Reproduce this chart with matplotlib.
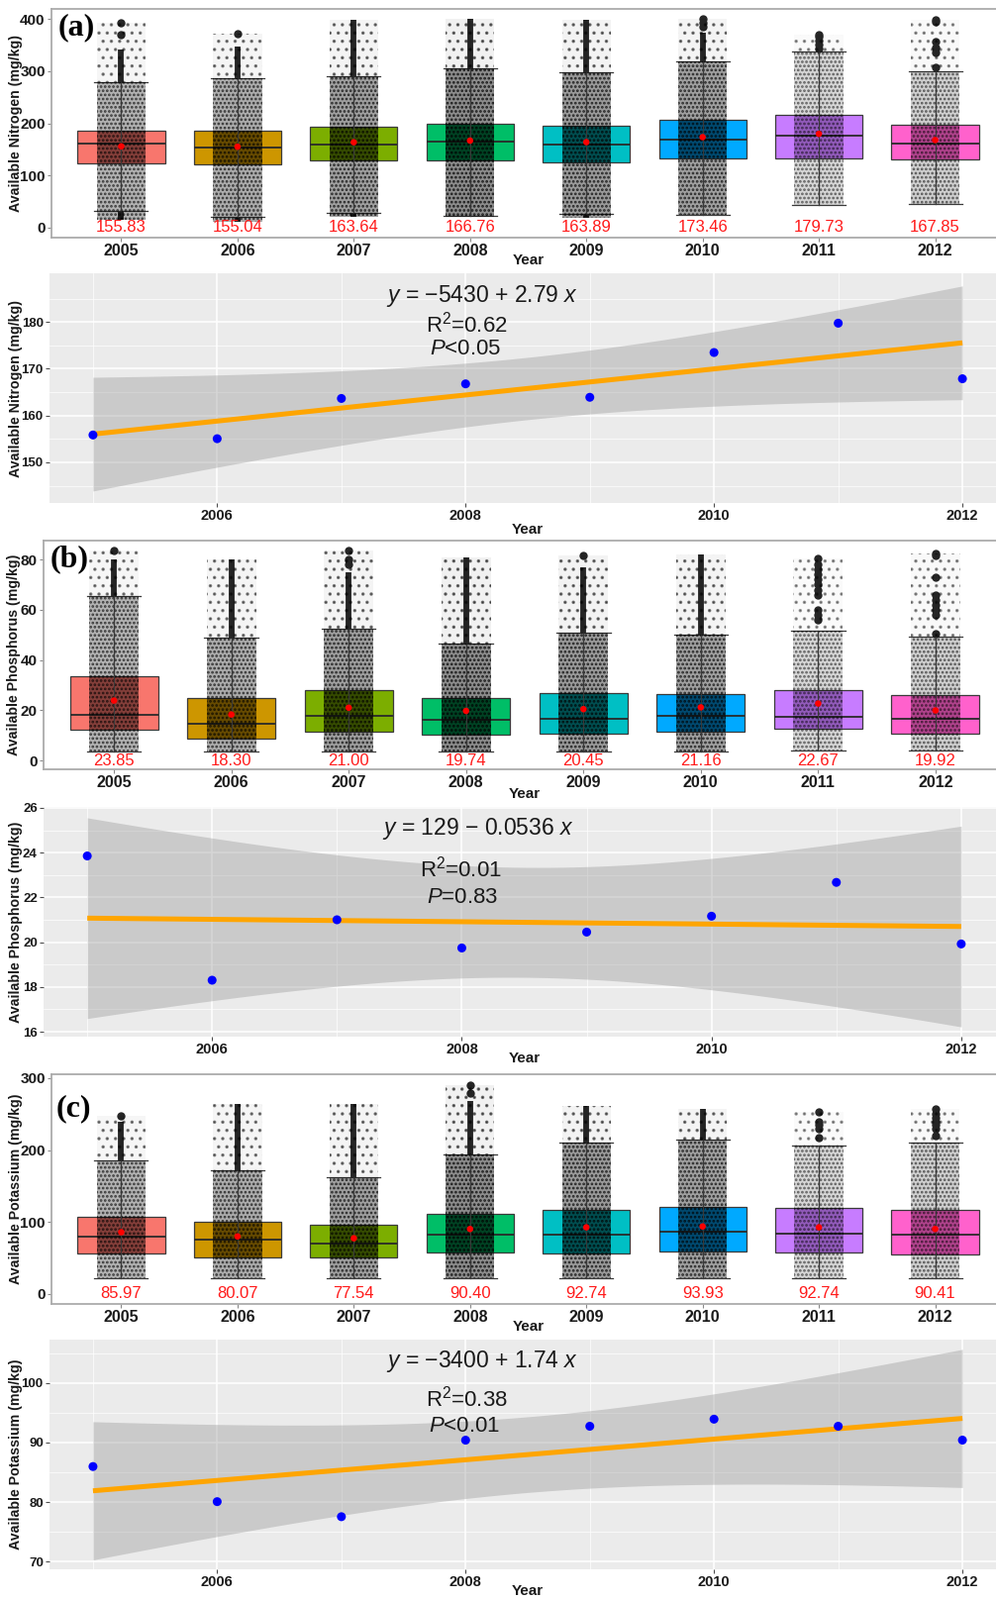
import numpy as np
import matplotlib
matplotlib.use("Agg")
import matplotlib.pyplot as plt

plt.rcParams['font.family'] = ['Liberation Sans', 'DejaVu Sans']
plt.rcParams['mathtext.fontset'] = 'custom'
plt.rcParams['mathtext.rm'] = 'Liberation Sans'
plt.rcParams['mathtext.it'] = 'Liberation Sans:italic'
plt.rcParams['hatch.linewidth'] = 1.3

years = ['2005', '2006', '2007', '2008', '2009', '2010', '2011', '2012']
year_num = [2005, 2006, 2007, 2008, 2009, 2010, 2011, 2012]
box_colors = ['#F8766D', '#CD9600', '#7CAE00', '#00BE67', '#00BFC4', '#00A9FF', '#C77CFF', '#FF61CC']

# (a) available nitrogen
n_mean = [155.83, 155.04, 163.64, 166.76, 163.89, 173.46, 179.73, 167.85]
n_q1 = [124, 121, 128, 129, 126, 133, 132, 131]
n_med = [162, 153, 159, 165, 159, 169, 176, 162]
n_q3 = [186, 186, 193, 200, 196, 207, 216, 198]
n_wlo = [32, 21, 28, 23, 27, 24, 43, 46]
n_whi = [279, 286, 291, 306, 298, 318, 338, 300]
n_out_lo = [16, 12, 20, 20, 18, 24, 43, 46]
n_out_hi = [341, 347, 398, 400, 398, 373, 338, 300]
n_top = [392, 371, 398, 400, 398, 400, 370, 398]
n_extra = [[370, 392], [371], [], [], [], [385, 392, 400],
           [343, 350, 358, 365, 370], [307, 335, 346, 357, 395, 398]]

# (b) available phosphorus
p_mean = [23.85, 18.30, 21.00, 19.74, 20.45, 21.16, 22.67, 19.92]
p_q1 = [12.4, 8.8, 11.3, 10.4, 10.6, 11.5, 12.6, 10.5]
p_med = [18.0, 14.6, 17.7, 16.3, 16.7, 17.8, 17.5, 16.5]
p_q3 = [33.5, 24.9, 28.0, 24.9, 26.9, 26.6, 28.2, 26.0]
p_wlo = [3.6, 3.6, 3.6, 3.6, 3.4, 3.4, 3.8, 3.8]
p_whi = [65.3, 49.0, 52.3, 46.6, 51.0, 49.9, 51.5, 49.4]
p_out_lo = [3.6, 3.6, 3.6, 3.6, 3.4, 3.4, 3.8, 3.8]
p_out_hi = [80, 80, 75, 81, 77, 82, 51.5, 49.4]
p_top = [83.5, 80, 83.5, 81, 81.5, 82, 80.5, 82.5]
p_extra = [[83.5], [], [78, 80, 83.5], [], [81.5], [],
           [56, 58, 60, 66, 68, 70, 72, 74, 76, 78, 80.5],
           [50.5, 58, 60, 62, 64, 66, 73, 81.5, 82.5]]

# (c) available potassium
k_mean = [85.97, 80.07, 77.54, 90.40, 92.74, 93.93, 92.74, 90.41]
k_q1 = [56, 51, 51, 58, 56, 58.7, 58, 54.6]
k_med = [80, 75, 70, 83, 83, 86, 84, 83]
k_q3 = [107, 100, 96, 112, 117, 120.6, 119.5, 116.5]
k_wlo = [22, 22, 22, 22, 22, 22, 22, 22]
k_whi = [186, 172, 163, 194, 210.5, 215, 207, 210]
k_out_lo = [22, 22, 22, 22, 22, 22, 22, 22]
k_out_hi = [240, 264, 264, 269, 262, 258, 207, 210]
k_top = [248, 264, 264, 290, 262, 258, 253, 257]
k_extra = [[248], [], [], [280, 290], [], [], [218, 230, 235, 240, 253],
           [220, 230, 235, 240, 245, 250, 257]]

# relative number of samples per year (darkness of the jitter cloud)
density = [0.6, 0.65, 0.75, 0.9, 0.8, 0.75, 0.32, 0.38]

W, H = 1006, 1616
fig = plt.figure(figsize=(W / 100, H / 100), dpi=100)


def px_axes(l, t, r, b):
    ax = fig.add_axes([l / W, 1 - b / H, (r - l) / W, (b - t) / H])
    ax._px = (l, t, r, b)
    return ax


def place_labels(ax, ylab, xlab_y, ylab_x):
    l, t, r, b = ax._px
    ax.set_xlabel('Year', fontsize=11, fontweight='bold', color='#1a1a1a', va='center')
    ax.xaxis.set_label_coords(0.5, (b - xlab_y) / (b - t))
    ax.set_ylabel(ylab, fontsize=10.2, fontweight='bold', color='#1a1a1a', va='center')
    ax.yaxis.set_label_coords((ylab_x - l) / (r - l), 0.5)


def fig_text(x, y, s, **kw):
    fig.text(x / W, 1 - y / H, s, ha='center', va='center', **kw)


def box_panel(ax, means, q1, med, q3, wlo, whi, out_lo, out_hi, top, extra, ylim, yticks, ylab,
              xlab_y, ylab_x):
    x = np.arange(1, 9)
    stats = []
    for i in range(8):
        stats.append(dict(med=med[i], q1=q1[i], q3=q3[i], whislo=wlo[i], whishi=whi[i],
                          fliers=extra[i]))
    # dense runs of outliers
    ax.vlines(x, whi, out_hi, color='#262626', lw=4.2, zorder=1.5)
    ax.vlines(x, out_lo, wlo, color='#262626', lw=4.2, zorder=1.5)
    bp = ax.bxp(stats, positions=x, widths=0.75, capwidths=0.46, patch_artist=True,
                showfliers=True, manage_ticks=False,
                boxprops=dict(edgecolor='#3a3a3a', linewidth=0.9),
                medianprops=dict(color='#2a2a2a', linewidth=1.3),
                whiskerprops=dict(color='#3a3a3a', linewidth=0.9),
                capprops=dict(color='#3a3a3a', linewidth=0.9),
                flierprops=dict(marker='o', markerfacecolor='#262626', markeredgecolor='none',
                                markersize=6))
    for patch, c in zip(bp['boxes'], box_colors):
        patch.set_facecolor(c)
    # jitter cloud, drawn as dotted strips
    d = np.array(density)
    lo = np.minimum(out_lo, wlo)
    ax.bar(x, np.array(top) - np.array(whi), bottom=whi, width=0.42, hatch='..',
           facecolor=[(0, 0, 0, 0.06 * v) for v in d],
           edgecolor=[(0, 0, 0, 0.3 + 0.25 * v) for v in d], lw=0, zorder=3)
    ax.bar(x, np.array(whi) - np.array(lo), bottom=lo, width=0.42, hatch='....',
           facecolor=[(0, 0, 0, 0.5 * v) for v in d],
           edgecolor=[(0, 0, 0, 0.4 + 0.45 * v) for v in d], lw=0, zorder=3)
    ax.bar(x, np.array(q3) - np.array(q1), bottom=q1, width=0.42,
           color=[(0, 0, 0, 0.4 * v) for v in d], lw=0, zorder=3)
    ax.vlines(x, wlo, whi, color='#3a3a3a', lw=0.8, zorder=3.2)
    ax.scatter(x, means, s=22, color='#FF0000', zorder=5, edgecolors='none')
    for xi, m in zip(x, means):
        ax.text(xi, 0, f'{m:.2f}', color='#FF1A1A', fontsize=12, ha='center', va='center', zorder=6)
    ax.set_xlim(0.4, 8.6)
    ax.set_ylim(*ylim)
    ax.set_xticks(x, years)
    ax.set_yticks(yticks)
    ax.tick_params(labelsize=11.5, length=3, width=0.8, color='#8a8a8a', pad=1.5,
                   labelcolor='#1a1a1a')
    ax.tick_params(axis='y', labelsize=11)
    for lab in ax.get_xticklabels() + ax.get_yticklabels():
        lab.set_fontweight('bold')
    for sp in ax.spines.values():
        sp.set_color('#ababab')
        sp.set_linewidth(1.3)
    place_labels(ax, ylab, xlab_y, ylab_x)


def reg_panel(ax, means, ylim, yticks, ylab, xlab_y, eq, r2, pv, pos):
    yrs = np.array(year_num, dtype=float)
    y = np.array(means)
    b1, b0 = np.polyfit(yrs, y, 1)
    n = len(y)
    s = np.sqrt(np.sum((y - (b0 + b1 * yrs)) ** 2) / (n - 2))
    xs = np.linspace(yrs.min(), yrs.max(), 100)
    fit = b0 + b1 * xs
    se = s * np.sqrt(1 / n + (xs - yrs.mean()) ** 2 / np.sum((yrs - yrs.mean()) ** 2))
    t99 = 3.707  # 99% level, 6 df
    ax.set_facecolor('#EBEBEB')
    ax.fill_between(xs, fit - t99 * se, fit + t99 * se, color='#999999', alpha=0.4, lw=0, zorder=2)
    ax.plot(xs, fit, color='#FFA500', lw=3.6, zorder=3, solid_capstyle='butt')
    ax.scatter(yrs, y, s=42, color='#0000FF', zorder=4, edgecolors='none')
    ax.set_xlim(2004.65, 2012.35)
    ax.set_xticks([2006, 2008, 2010, 2012])
    ax.set_xticks([2005, 2007, 2009, 2011], minor=True)
    ax.set_yticks(yticks)
    step = yticks[1] - yticks[0]
    ax.set_yticks([v + step / 2 for v in [yticks[0] - step] + list(yticks)], minor=True)
    ax.set_ylim(*ylim)
    ax.grid(which='major', color='white', lw=1.1, zorder=0)
    ax.grid(which='minor', color='white', lw=0.5, zorder=0)
    ax.set_axisbelow(True)
    for sp in ax.spines.values():
        sp.set_visible(False)
    ax.tick_params(which='major', length=3, width=0.8, color='#4d4d4d', pad=1.5,
                   labelcolor='#1a1a1a')
    ax.tick_params(which='minor', length=0)
    ax.tick_params(axis='x', labelsize=10.5)
    ax.tick_params(axis='y', labelsize=9.5)
    for lab in ax.get_xticklabels() + ax.get_yticklabels():
        lab.set_fontweight('bold')
    place_labels(ax, ylab, xlab_y, 16)
    (ex, ey), (rx, ry), (qx, qy) = pos
    fig_text(ex, ey, eq, fontsize=16.5, color='#1a1a1a')
    fig_text(rx, ry, r2, fontsize=16, color='#1a1a1a')
    fig_text(qx, qy, pv, fontsize=16, color='#1a1a1a')


ax1 = px_axes(52, 9, 1015, 240)
box_panel(ax1, n_mean, n_q1, n_med, n_q3, n_wlo, n_whi, n_out_lo, n_out_hi, n_top, n_extra,
          (-19, 419), [0, 100, 200, 300, 400], 'Available Nitrogen (mg/kg)', 263, 16)
ax2 = px_axes(50, 276, 1016, 508)
reg_panel(ax2, n_mean, (141.3, 190.4), [150, 160, 170, 180], 'Available Nitrogen (mg/kg)', 535,
          '$y$ = \u22125430 + 2.79 $x$', 'R$^2$=0.62', '$P$<0.05',
          [(487, 299), (471, 328), (470, 352)])

ax3 = px_axes(44, 546, 1016, 777)
box_panel(ax3, p_mean, p_q1, p_med, p_q3, p_wlo, p_whi, p_out_lo, p_out_hi, p_top, p_extra,
          (-3.5, 87.5), [0, 20, 40, 60, 80], 'Available Phosphorus (mg/kg)', 802, 14)
ax4 = px_axes(44, 815, 1015, 1047)
reg_panel(ax4, p_mean, (15.78, 26.04), [16, 18, 20, 22, 24, 26], 'Available Phosphorus (mg/kg)', 1069,
          '$y$ = 129 \u2212 0.0536 $x$', 'R$^2$=0.01', '$P$=0.83',
          [(483, 837), (465, 878), (467, 907)])

ax5 = px_axes(52, 1085, 1015, 1317)
box_panel(ax5, k_mean, k_q1, k_med, k_q3, k_wlo, k_whi, k_out_lo, k_out_hi, k_top, k_extra,
          (-13.8, 305.5), [0, 100, 200, 300], 'Available Potassium (mg/kg)', 1340, 16)
ax6 = px_axes(50, 1353, 1016, 1585)
reg_panel(ax6, k_mean, (68.7, 107.3), [70, 80, 90, 100], 'Available Potassium (mg/kg)', 1607,
          '$y$ = \u22123400 + 1.74 $x$', 'R$^2$=0.38', '$P$<0.01',
          [(487, 1375), (471, 1413), (469, 1440)])

for lab, x, y in [('(a)', 77, 28), ('(b)', 70, 565), ('(c)', 74, 1120)]:
    fig_text(x, y, lab, fontsize=23, fontweight='bold', family='Liberation Serif', color='black')

fig.savefig('out.png', dpi=100)
